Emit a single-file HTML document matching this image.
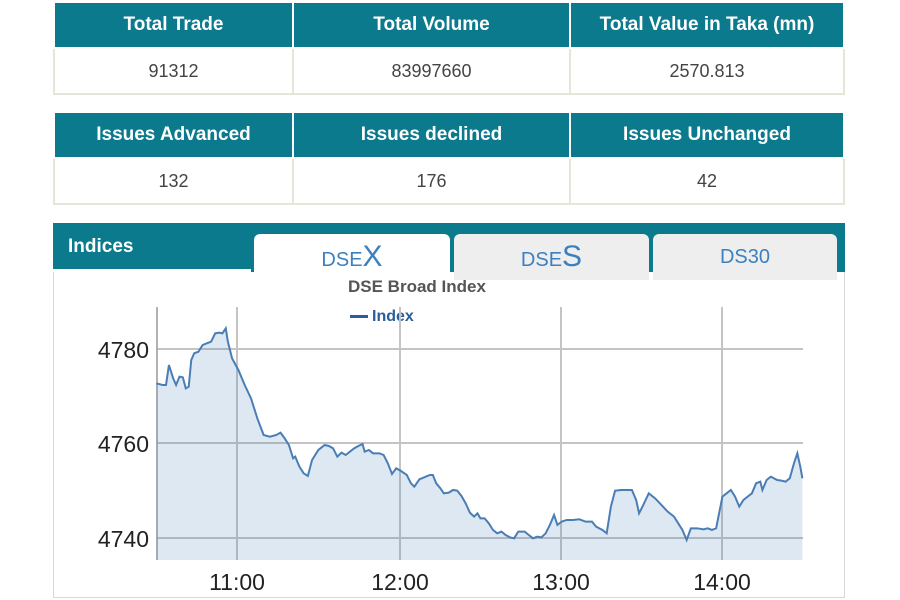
<!DOCTYPE html>
<html><head><style>
body{margin:0;width:900px;height:600px;background:#fff;font-family:"Liberation Sans",Arial,sans-serif;position:relative;overflow:hidden}
table{position:absolute;left:53px;width:792px;border-collapse:collapse;table-layout:fixed}
th{background:#0b7a8c;color:#fff;font-size:19px;font-weight:bold;height:42px;border:2px solid #fff;border-top:none}
td{font-size:18px;color:#444;text-align:center;height:42px;border:2px solid #e3e6d9}
.tab{position:absolute;top:234px;height:46px;border-radius:6px 6px 0 0;text-align:center;color:#3b80c0;font-size:20px;line-height:46px}
</style></head><body>
<table style="top:3px"><colgroup><col style="width:239px"><col style="width:277px"><col></colgroup>
<tr><th>Total Trade</th><th>Total Volume</th><th>Total Value in Taka (mn)</th></tr>
<tr><td>91312</td><td>83997660</td><td>2570.813</td></tr></table>
<table style="top:113px"><colgroup><col style="width:239px"><col style="width:277px"><col></colgroup>
<tr><th>Issues Advanced</th><th>Issues declined</th><th>Issues Unchanged</th></tr>
<tr><td>132</td><td>176</td><td>42</td></tr></table>
<div style="position:absolute;left:53px;top:223px;width:792px;height:49px;background:#0b7a8c"></div>
<div style="position:absolute;left:68px;top:236px;color:#fff;font-weight:bold;font-size:19px">Indices</div>
<div style="position:absolute;left:53px;top:269px;width:198px;height:3px;background:#fff"></div>
<div style="position:absolute;left:53px;top:272px;width:790px;height:325px;border:1px solid #d8d8d8;border-top:none"></div>
<div class="tab" style="left:254px;width:196px;height:50px;background:#fff">DSE<span style="font-size:30px">X</span></div>
<div class="tab" style="left:454px;width:195px;background:#eee">DSE<span style="font-size:30px">S</span></div>
<div class="tab" style="left:653px;width:184px;background:#eee">DS30</div>
<div style="position:absolute;left:348px;top:277px;font-size:17px;font-weight:bold;color:#555">DSE Broad Index</div>
<div style="position:absolute;left:350px;top:308px;font-size:16px;font-weight:bold;color:#2a5d99"><span style="display:inline-block;width:18px;height:3px;background:#2a5d99;vertical-align:middle;margin-right:4px"></span>Index</div>
<svg width="900" height="600" style="position:absolute;left:0;top:0">
<g stroke="#c4c4c4" stroke-width="2">
<line x1="157" y1="349" x2="803" y2="349"/><line x1="157" y1="443" x2="803" y2="443"/><line x1="157" y1="538" x2="803" y2="538"/>
<line x1="237" y1="307" x2="237" y2="560"/><line x1="400" y1="307" x2="400" y2="560"/><line x1="561" y1="307" x2="561" y2="560"/><line x1="722" y1="307" x2="722" y2="560"/>
</g>
<line x1="157" y1="307" x2="157" y2="560" stroke="#999" stroke-width="1.5"/>
<g transform="translate(150,320) scale(0.4209,0.3333)">
<path d="M15,190 L30,195 38,195 45,135 55,175 62,195 70,170 78,172 85,205 92,200 98,120 105,100 115,95 125,75 135,70 145,65 155,40 165,38 172,40 180,25 185,65 195,115 210,150 225,195 240,235 255,295 270,345 285,350 300,345 310,338 320,355 330,375 340,415 345,410 355,440 365,460 375,468 385,420 400,390 415,375 425,378 435,385 445,410 455,398 465,405 475,395 485,385 495,378 505,372 510,395 520,390 530,400 545,400 555,405 565,430 575,462 585,445 595,452 610,465 620,490 628,500 640,478 655,470 665,465 672,465 680,490 690,505 698,520 710,518 720,510 730,512 740,528 750,550 760,578 770,590 778,580 785,595 795,595 805,610 815,630 825,640 835,635 845,645 855,652 865,655 875,635 890,635 900,645 910,655 920,650 930,652 940,640 950,615 960,585 968,615 978,605 990,600 1005,600 1020,598 1035,605 1050,605 1060,620 1075,630 1085,640 1095,560 1105,512 1120,510 1145,510 1155,540 1162,580 1172,555 1185,520 1200,535 1215,555 1230,575 1245,590 1255,610 1265,630 1275,660 1285,625 1300,625 1315,628 1325,625 1335,630 1345,625 1360,530 1370,520 1380,510 1390,530 1400,560 1410,540 1420,530 1430,520 1440,490 1450,485 1455,510 1465,480 1475,470 1490,480 1500,482 1510,485 1520,475 1530,430 1538,400 1545,440 1550,475" fill="none" stroke="#4a7eb5" stroke-width="2" vector-effect="non-scaling-stroke"/>
<path d="M15,190 L30,195 38,195 45,135 55,175 62,195 70,170 78,172 85,205 92,200 98,120 105,100 115,95 125,75 135,70 145,65 155,40 165,38 172,40 180,25 185,65 195,115 210,150 225,195 240,235 255,295 270,345 285,350 300,345 310,338 320,355 330,375 340,415 345,410 355,440 365,460 375,468 385,420 400,390 415,375 425,378 435,385 445,410 455,398 465,405 475,395 485,385 495,378 505,372 510,395 520,390 530,400 545,400 555,405 565,430 575,462 585,445 595,452 610,465 620,490 628,500 640,478 655,470 665,465 672,465 680,490 690,505 698,520 710,518 720,510 730,512 740,528 750,550 760,578 770,590 778,580 785,595 795,595 805,610 815,630 825,640 835,635 845,645 855,652 865,655 875,635 890,635 900,645 910,655 920,650 930,652 940,640 950,615 960,585 968,615 978,605 990,600 1005,600 1020,598 1035,605 1050,605 1060,620 1075,630 1085,640 1095,560 1105,512 1120,510 1145,510 1155,540 1162,580 1172,555 1185,520 1200,535 1215,555 1230,575 1245,590 1255,610 1265,630 1275,660 1285,625 1300,625 1315,628 1325,625 1335,630 1345,625 1360,530 1370,520 1380,510 1390,530 1400,560 1410,540 1420,530 1430,520 1440,490 1450,485 1455,510 1465,480 1475,470 1490,480 1500,482 1510,485 1520,475 1530,430 1538,400 1545,440 1550,475 L1550,720 L15,720 Z" fill="#4a7eb5" fill-opacity="0.18"/>
</g>
<g font-size="23" fill="#222" font-family="Liberation Sans,Arial,sans-serif">
<text x="149" y="358" text-anchor="end">4780</text><text x="149" y="452" text-anchor="end">4760</text><text x="149" y="547" text-anchor="end">4740</text>
<text x="237" y="590" text-anchor="middle">11:00</text><text x="400" y="590" text-anchor="middle">12:00</text><text x="561" y="590" text-anchor="middle">13:00</text><text x="722" y="590" text-anchor="middle">14:00</text>
</g>
</svg>
</body></html>
